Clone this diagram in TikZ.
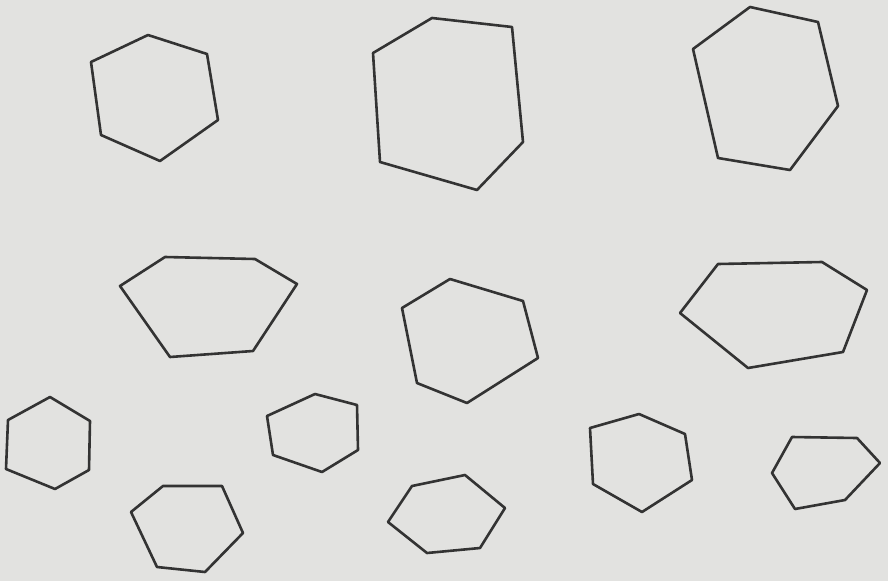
\documentclass[tikz,border=0pt]{standalone}
\begin{document}
\begin{tikzpicture}[x=1pt,y=-1pt,
  poly/.style={draw=black!80, line width=2.6pt, line join=round, line cap=round}]
\definecolor{paper}{HTML}{E2E2E0}
\fill[paper] (0,0) rectangle (888,581);
\useasboundingbox (0,0) rectangle (888,581);
% row 1
\draw[poly] (91,62) -- (148,35) -- (207,54) -- (218,120) -- (160,161) -- (101,135) -- cycle;
\draw[poly] (373,53) -- (432,18) -- (512,27) -- (523,142) -- (477,190) -- (380,162) -- cycle;
\draw[poly] (693,49) -- (750,7) -- (818,22) -- (838,106) -- (790,170) -- (718,158) -- cycle;
% row 2
\draw[poly] (120,286) -- (165,257) -- (255,259) -- (297,284) -- (253,351) -- (170,357) -- cycle;
\draw[poly] (402,308) -- (450,279) -- (523,301) -- (538,358) -- (467,403) -- (417,383) -- cycle;
\draw[poly] (680,313) -- (718,264) -- (822,262) -- (867,290) -- (843,352) -- (748,368) -- cycle;
% row 3
\draw[poly] (8,420) -- (50,397) -- (90,421) -- (89,470) -- (55,489) -- (6,469) -- cycle;
\draw[poly] (267,416) -- (315,394) -- (357,405) -- (358,450) -- (322,472) -- (273,455) -- cycle;
\draw[poly] (131,512) -- (163,486) -- (222,486) -- (243,533) -- (205,572) -- (157,567) -- cycle;
\draw[poly] (388,522) -- (412,486) -- (465,475) -- (505,508) -- (480,548) -- (427,553) -- cycle;
\draw[poly] (590,428) -- (639,414) -- (685,434) -- (692,480) -- (642,512) -- (593,484) -- cycle;
\draw[poly] (772,473) -- (792,437) -- (857,438) -- (880,463) -- (845,500) -- (795,509) -- cycle;
\end{tikzpicture}
\end{document}
